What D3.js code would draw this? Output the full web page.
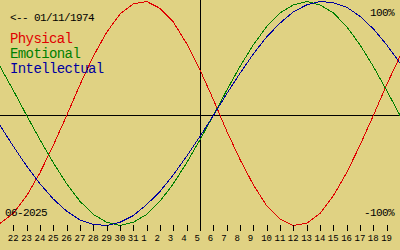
<!DOCTYPE html>
<html>
<head>
<meta charset="utf-8">
<script src="https://cdn.jsdelivr.net/npm/d3@7.9.0/dist/d3.min.js"></script>
<style>
  html, body { margin: 0; padding: 0; background: #e0d283; }
  svg { display: block; }
  text { font-family: "Liberation Mono", "DejaVu Sans Mono", monospace; }
  .small { font-size: 11px; letter-spacing: -0.6px; }
  .legend { font-size: 14px; letter-spacing: -0.6px; }
</style>
</head>
<body>
<svg id="chart" width="400" height="250"></svg>
<script>
// day labels under the ticks (May 22 .. June 19), chart spans May 21 .. June 20
const dayLabels = ["22","23","24","25","26","27","28","29","30","31",
  "1","2","3","4","5","6","7","8","9","10","11","12","13","14","15","16","17","18","19"];

// daily values in percent, day 0 = May 21
const physical = [-98,-89,-73,-52,-27,0,27,52,73,89,98,100,94,82,63,40,14,-14,-40,-63,-82,-94,-100,-98,-89,-73,-52,-27,0,27,52];
const emotional = [43,22,0,-22,-43,-62,-78,-90,-97,-100,-97,-90,-78,-62,-43,-22,0,22,43,62,78,90,97,100,97,90,78,62,43,22,0];
const intellectual = [-9,-28,-46,-62,-76,-87,-95,-99,-100,-97,-91,-81,-69,-54,-37,-19,0,19,37,54,69,81,91,97,100,99,95,87,76,62,46];

const seriesNames = ["Physical", "Emotional", "Intellectual"];
const seriesColors = ["#e00000", "#008000", "#0000a0"];
const birthDate = "01/11/1974";
const monthLabel = "06-2025";
const todayIndex = 15; // June 5

const width = 400, height = 250;
const svg = d3.select("#chart");

const x = d3.scaleLinear().domain([0, 30]).range([0, width]);
const y = d3.scaleLinear().domain([-100, 0, 100]).range([225.5, 115.5, 1.5]);

// zero line and today line
svg.append("line")
  .attr("x1", 0).attr("x2", width)
  .attr("y1", y(0)).attr("y2", y(0))
  .attr("stroke", "#000").attr("shape-rendering", "crispEdges");

svg.append("line")
  .attr("x1", x(todayIndex) + 0.5).attr("x2", x(todayIndex) + 0.5)
  .attr("y1", 0).attr("y2", 231)
  .attr("stroke", "#000").attr("shape-rendering", "crispEdges");

// curves
const line = d3.line().x((d, i) => x(i)).y(d => y(d));
[physical, emotional, intellectual].forEach((vals, i) => {
  svg.append("path")
    .datum(vals)
    .attr("d", line)
    .attr("fill", "none")
    .attr("stroke", seriesColors[i])
    .attr("stroke-width", 1)
    .attr("shape-rendering", "crispEdges");
});

// day axis
const axis = d3.axisBottom(x)
  .tickValues(d3.range(1, dayLabels.length + 1))
  .tickFormat((d) => dayLabels[d - 1])
  .tickSize(6)
  .tickSizeOuter(0);

const gx = svg.append("g").attr("transform", "translate(0,225)").call(axis);
gx.select(".domain").remove();
gx.selectAll(".tick line").attr("stroke", "#000").attr("shape-rendering", "crispEdges");
gx.selectAll(".tick text")
  .attr("text-anchor", "start")
  .attr("x", -6)
  .attr("y", 16)
  .attr("dy", null)
  .attr("fill", "#000")
  .style("font-size", "9px")
  .style("font-family", "'Liberation Mono', monospace");

// labels
svg.append("text").attr("class", "small").attr("x", 10).attr("y", 21)
  .text("<-- " + birthDate);

seriesNames.forEach((name, i) => {
  svg.append("text")
    .attr("class", "legend")
    .attr("x", 10).attr("y", 43 + i * 15)
    .attr("fill", seriesColors[i])
    .text(name);
});

svg.append("text").attr("class", "small").attr("x", 394).attr("y", 16).attr("text-anchor", "end")
  .text("100%");
svg.append("text").attr("class", "small").attr("x", 394).attr("y", 216).attr("text-anchor", "end")
  .text("-100%");
svg.append("text").attr("class", "small").attr("x", 5).attr("y", 216)
  .text(monthLabel);
</script>
</body>
</html>
